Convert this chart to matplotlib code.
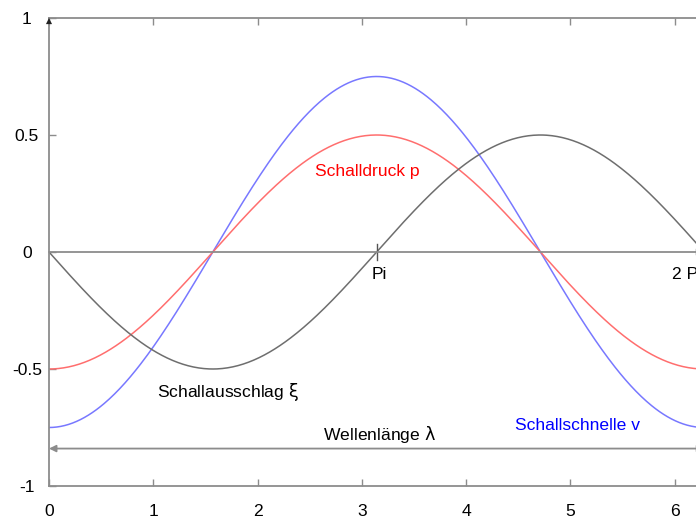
import numpy as np
import matplotlib

matplotlib.use("Agg")
import matplotlib.pyplot as plt

plt.rcParams["font.family"] = ["Liberation Sans", "DejaVu Sans"]

# amplitudes of the three wave quantities (one wavelength, 0 .. 2 pi)
pressure_amp = 0.5       # Schalldruck p      -> -A cos(x)
velocity_amp = 0.75      # Schallschnelle v   -> -A cos(x)
displacement_amp = 0.5   # Schallausschlag xi -> -A sin(x)

x_ticks = [0, 1, 2, 3, 4, 5, 6]
y_ticks = [-1, -0.5, 0, 0.5, 1]
y_labels = ["-1", "-0.5", "0", "0.5", "1"]
wavelength_y = -0.84

axis_grey = "#8c8c8c"
fs = 12.6

x = np.linspace(0, 2 * np.pi, 500)
pressure = -pressure_amp * np.cos(x)
velocity = -velocity_amp * np.cos(x)
displacement = -displacement_amp * np.sin(x)

fig = plt.figure(figsize=(6.96, 5.17), dpi=100)
px_per_unit = 104.28
ax = fig.add_axes([49 / 696, 31 / 517, 6.4 * px_per_unit / 696, 468 / 517])
ax.set_xlim(0, 6.4)
ax.set_ylim(-1, 1)

for side in ("top", "bottom", "left", "right"):
    ax.spines[side].set_color(axis_grey)
    ax.spines[side].set_linewidth(1.3)

ax.set_xticks(x_ticks)
ax.set_yticks(y_ticks, y_labels)
ax.tick_params(axis="both", direction="in", length=5, width=1, color=axis_grey,
               labelsize=fs, top=True)
ax.tick_params(axis="x", pad=13)
ax.tick_params(axis="y", pad=16)
for lab in ax.get_yticklabels():
    lab.set_horizontalalignment("center")

# curves
ax.plot(x, velocity, color="#7878ff", lw=1.1)
ax.plot(x, pressure, color="#ff6e6e", lw=1.1)
ax.plot(x, displacement, color="#6e6e6e", lw=1.1)

# zero line with arrow and pi marks
ax.annotate("", xy=(2 * np.pi, 0), xytext=(0, 0),
            arrowprops=dict(arrowstyle="-|>", color=axis_grey, lw=1.3,
                            shrinkA=0, shrinkB=0, mutation_scale=10))
for xm in (np.pi, 2 * np.pi):
    ax.plot([xm, xm], [-0.035, 0.035], color="#555555", lw=1)
ax.text(np.pi + 0.03, -0.065, "Pi", ha="center", va="top", fontsize=fs)
ax.text(5.975, -0.065, "2 Pi", ha="left", va="top", fontsize=fs)

# arrow at the top of the y axis
ax.annotate("", xy=(0, 1), xytext=(0, 0.93),
            arrowprops=dict(arrowstyle="-|>", color="#222222", lw=0,
                            shrinkA=0, shrinkB=0, mutation_scale=11),
            annotation_clip=False)

# wavelength arrow
ax.annotate("", xy=(0, wavelength_y), xytext=(2 * np.pi, wavelength_y),
            arrowprops=dict(arrowstyle="<|-|>", color=axis_grey, lw=1.3,
                            shrinkA=0, shrinkB=0, mutation_scale=10))
ax.text(3.17, wavelength_y + 0.06, "Wellenlänge $\\mathrm{\\lambda}$", ha="center",
        va="center", fontsize=fs)

# curve labels
ax.text(3.05, 0.342, "Schalldruck p", color="red", ha="center", va="center", fontsize=fs)
ax.text(1.72, -0.60, "Schallausschlag $\\mathrm{\\xi}$", color="black", ha="center",
        va="center", fontsize=fs)
ax.text(5.07, -0.74, "Schallschnelle v", color="blue", ha="center", va="center",
        fontsize=fs)

fig.savefig("out.png", dpi=100)
